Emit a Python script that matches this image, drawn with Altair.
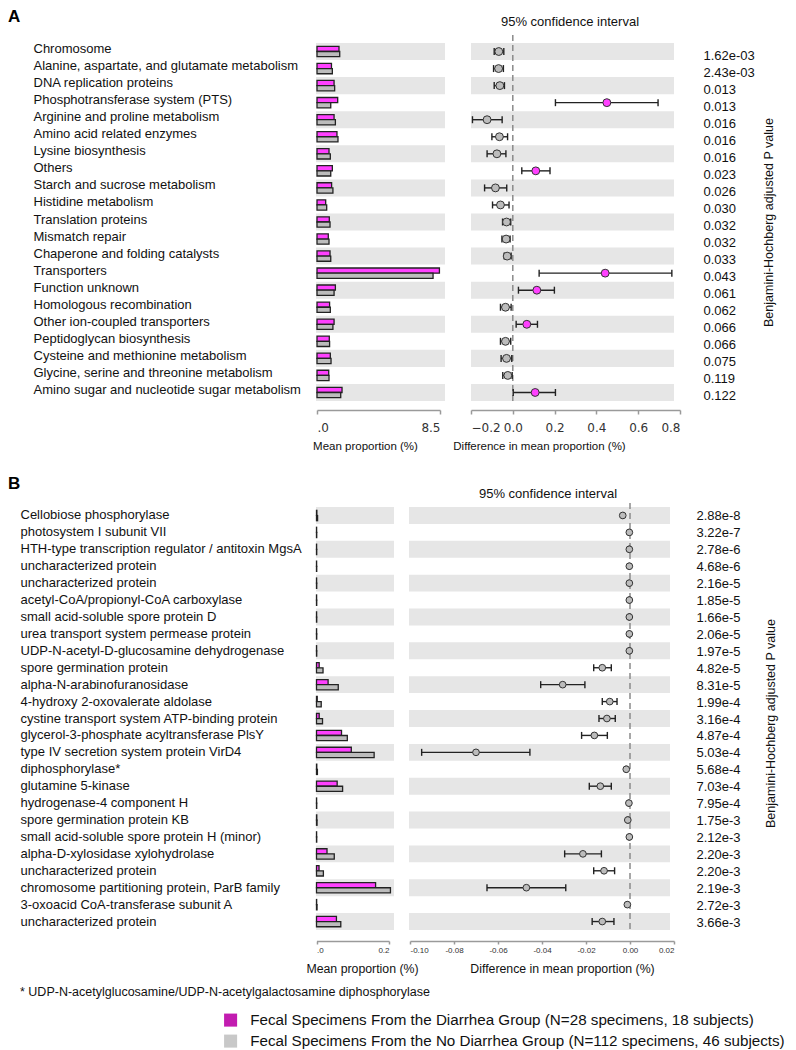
import json
import altair as alt
import pandas as pd

FONT = "Liberation Sans"
PINK = "#ff40ff"
GRAY = "#bcbcbc"
DARK = "#222222"
BAND = "#e6e6e6"
GROUPS = ["D", "N"]
LEGEND_LABELS = [
    "Fecal Specimens From the Diarrhea Group (N=28 specimens, 18 subjects)",
    "Fecal Specimens From the No Diarrhea Group (N=112 specimens, 46 subjects)",
]
LEGEND_COLORS = ["#c21cb0", "#c8c8c8"]
FOOTNOTE = "* UDP-N-acetylglucosamine/UDP-N-acetylgalactosamine diphosphorylase"
CI_TITLE = "95% confidence interval"
P_TITLE = "Benjamini-Hochberg adjusted P value"

# ---------------- Panel A ----------------
A_NAMES = [
    "Chromosome",
    "Alanine, aspartate, and glutamate metabolism",
    "DNA replication proteins",
    "Phosphotransferase system (PTS)",
    "Arginine and proline metabolism",
    "Amino acid related enzymes",
    "Lysine biosynthesis",
    "Others",
    "Starch and sucrose metabolism",
    "Histidine metabolism",
    "Translation proteins",
    "Mismatch repair",
    "Chaperone and folding catalysts",
    "Transporters",
    "Function unknown",
    "Homologous recombination",
    "Other ion-coupled transporters",
    "Peptidoglycan biosynthesis",
    "Cysteine and methionine metabolism",
    "Glycine, serine and threonine metabolism",
    "Amino sugar and nucleotide sugar metabolism",
]
A_PVALUES = ["1.62e-03", "2.43e-03", "0.013", "0.013", "0.016", "0.016", "0.016",
             "0.023", "0.026", "0.030", "0.032", "0.032", "0.033", "0.043",
             "0.061", "0.062", "0.066", "0.066", "0.075", "0.119", "0.122"]
A_MEAN_DIARRHEA = [1.52, 1.00, 1.18, 1.43, 1.18, 1.38, 0.83, 1.06, 1.01, 0.60, 0.85,
                   0.78, 0.90, 8.46, 1.27, 0.87, 1.18, 0.85, 0.92, 0.81, 1.73]
A_MEAN_NO_DIARRHEA = [1.57, 1.06, 1.22, 0.95, 1.27, 1.45, 0.92, 0.95, 1.10, 0.67, 0.90,
                      0.83, 0.95, 8.02, 1.18, 0.92, 1.10, 0.87, 0.97, 0.83, 1.64]
A_DIFF = [-0.067, -0.068, -0.062, 0.450, -0.123, -0.064, -0.076, 0.110, -0.083, -0.059,
          -0.030, -0.032, -0.027, 0.442, 0.115, -0.035, 0.067, -0.035, -0.030, -0.024, 0.107]
A_CI_LOW = [-0.089, -0.092, -0.089, 0.204, -0.193, -0.100, -0.123, 0.043, -0.135, -0.097,
            -0.049, -0.052, -0.041, 0.126, 0.027, -0.059, 0.016, -0.059, -0.056, -0.048, 0.002]
A_CI_HIGH = [-0.043, -0.045, -0.040, 0.695, -0.051, -0.025, -0.033, 0.178, -0.029, -0.018,
             -0.010, -0.013, -0.008, 0.761, 0.199, -0.008, 0.118, -0.010, -0.005, -0.003, 0.204]

# ---------------- Panel B ----------------
B_NAMES = [
    "Cellobiose phosphorylase",
    "photosystem I subunit VII",
    "HTH-type transcription regulator / antitoxin MgsA",
    "uncharacterized protein",
    "uncharacterized protein",
    "acetyl-CoA/propionyl-CoA carboxylase",
    "small acid-soluble spore protein D",
    "urea transport system permease protein",
    "UDP-N-acetyl-D-glucosamine dehydrogenase",
    "spore germination protein",
    "alpha-N-arabinofuranosidase",
    "4-hydroxy 2-oxovalerate aldolase",
    "cystine transport system ATP-binding protein",
    "glycerol-3-phosphate acyltransferase PlsY",
    "type IV secretion system protein VirD4",
    "diphosphorylase*",
    "glutamine 5-kinase",
    "hydrogenase-4 component H",
    "spore germination protein KB",
    "small acid-soluble spore protein H (minor)",
    "alpha-D-xylosidase xylohydrolase",
    "uncharacterized protein",
    "chromosome partitioning protein, ParB family",
    "3-oxoacid CoA-transferase subunit A",
    "uncharacterized protein",
]
B_PVALUES = ["2.88e-8", "3.22e-7", "2.78e-6", "4.68e-6", "2.16e-5", "1.85e-5", "1.66e-5",
             "2.06e-5", "1.97e-5", "4.82e-5", "8.31e-5", "1.99e-4", "3.16e-4", "4.87e-4",
             "5.03e-4", "5.68e-4", "7.03e-4", "7.95e-4", "1.75e-3", "2.12e-3", "2.20e-3",
             "2.20e-3", "2.19e-3", "2.72e-3", "3.66e-3"]
B_MEAN_DIARRHEA = [0.0010, 0.0003, 0.0003, 0.0003, 0.0003, 0.0003, 0.0003, 0.0003, 0.0003,
                   0.0074, 0.0320, 0.0020, 0.0074, 0.0690, 0.0960, 0.0008, 0.0570, 0.0003,
                   0.0008, 0.0003, 0.0290, 0.0070, 0.1630, 0.0004, 0.0550]
B_MEAN_NO_DIARRHEA = [0.0030, 0.0006, 0.0006, 0.0006, 0.0006, 0.0006, 0.0006, 0.0006, 0.0006,
                      0.0180, 0.0600, 0.0130, 0.0166, 0.0850, 0.1590, 0.0025, 0.0720, 0.0006,
                      0.0015, 0.0006, 0.0490, 0.0190, 0.2040, 0.0015, 0.0670]
B_DIFF = [-0.0033, -0.0003, -0.0003, -0.0003, -0.0003, -0.0003, -0.0003, -0.0003, -0.0003,
          -0.0126, -0.0306, -0.0092, -0.0105, -0.0162, -0.0700, -0.0017, -0.0135, -0.0005,
          -0.0010, -0.0003, -0.0214, -0.0118, -0.0471, -0.0012, -0.0126]
B_CI_LOW = [-0.0036, -0.0005, -0.0005, -0.0005, -0.0005, -0.0005, -0.0005, -0.0005, -0.0005,
            -0.0165, -0.0406, -0.0126, -0.0141, -0.0220, -0.0947, -0.0020, -0.0185, -0.0007,
            -0.0013, -0.0005, -0.0297, -0.0165, -0.0650, -0.0015, -0.0172]
B_CI_HIGH = [-0.0030, -0.0001, -0.0001, -0.0001, -0.0001, -0.0001, -0.0001, -0.0001, -0.0001,
             -0.0085, -0.0205, -0.0059, -0.0067, -0.0103, -0.0455, -0.0014, -0.0085, -0.0003,
             -0.0007, -0.0001, -0.0130, -0.0070, -0.0292, -0.0009, -0.0073]

GEO_A = dict(width=364, height=358, label_pad=283, label_size=13, l_off=-2.5,
             bar_dom=[0, 8.5], bar_rng=[1, 124], bar_ticks=[0, 8.5], bar_band=[0, 129],
             ci_dom=[-0.2, 0.8], ci_rng=[155, 364], ci_ticks=[-0.2, 0, 0.2, 0.4, 0.6, 0.8],
             ci_fmt="format(datum.value, '.1f')", ci_band=[155, 358], rule_top=-8,
             off_pad=0.65, pt=62, cap=7, axis_offset=9, tick_font="DejaVu Sans",
             tick_fs=12, tick_len=4, tick_pad=8, p_pad=23, p_off=4,
             p_title_x=88, p_title_y=179,
             bar_title_x=49, ci_title_x=223, title_y=36, axis_title_fs=11.5,
             ci_title_dx=254, ci_title_offset=5)
GEO_B = dict(width=358, height=423, label_pad=296, label_size=13, l_off=0,
             bar_dom=[0, 0.2], bar_rng=[0.5, 73], bar_ticks=[0, 0.2], bar_band=[0, 78],
             ci_dom=[-0.10, 0.02], ci_rng=[94, 358],
             ci_ticks=[-0.10, -0.08, -0.06, -0.04, -0.02, 0, 0.02],
             ci_fmt="replace(format(datum.value, '.2f'), '\u2212', '-')", ci_band=[93, 354],
             rule_top=-4, off_pad=0.6, pt=45, cap=7, axis_offset=11, tick_font=FONT,
             tick_fs=8, tick_len=3, tick_pad=2, p_pad=22, p_off=1,
             p_title_x=96, p_title_y=216,
             bar_title_x=46, ci_title_x=246, title_y=27, axis_title_fs=12.3,
             ci_title_dx=232, ci_title_offset=1)


def section(names, pvals, md, mn, diff, lo, hi, g, with_legend=False):
    n = len(names)
    rows = list(range(n))
    df_rows = pd.DataFrame({"row": rows, "diff": diff, "lo": lo, "hi": hi,
                            "enriched": [GROUPS[0] if v > 0 else GROUPS[1] for v in diff]})
    df_bars = pd.DataFrame({"row": rows + rows, "grp": [GROUPS[0]] * n + [GROUPS[1]] * n,
                            "mean": list(md) + list(mn)})
    df_zero = pd.DataFrame({"zero": [0.0]})

    yscale = alt.Scale(domain=rows, paddingInner=0, paddingOuter=0)
    fill_scale = alt.Scale(domain=GROUPS, range=[PINK, GRAY])
    bar_x = alt.Scale(domain=g["bar_dom"], range=g["bar_rng"], nice=False)
    ci_x = alt.Scale(domain=g["ci_dom"], range=g["ci_rng"], nice=False, zero=False)

    left_axis = alt.Axis(orient="left", title=None, labelExpr=f"{json.dumps(names)}[datum.value]",
                         labelAlign="left", labelBaseline="middle", labelPadding=g["label_pad"],
                         labelOffset=g["l_off"],
                         ticks=False, tickSize=0, domain=False, grid=False,
                         labelFontSize=g["label_size"], labelColor="#111", labelLimit=500,
                         labelOverlap=False, labelFont=FONT)
    right_axis = alt.Axis(orient="right", title=P_TITLE, titleAngle=270, titleFontWeight="normal",
                          titleFontSize=12.5, titleColor="#111", titleFont=FONT,
                          titleX=g["p_title_x"], titleY=g["p_title_y"], titleBaseline="middle",
                          titleAlign="center",
                          labelExpr=f"{json.dumps(pvals)}[datum.value]", labelAlign="left",
                          labelBaseline="middle", labelPadding=g["p_pad"], labelOffset=g["p_off"],
                          ticks=False, tickSize=0, domain=False, grid=False,
                          labelFontSize=13, labelColor="#111", labelOverlap=False, labelFont=FONT)
    common_x = dict(orient="bottom", grid=False, offset=g["axis_offset"], domainColor="#9a9a9a",
                    domainWidth=1.5, tickColor="#9a9a9a", tickWidth=1.5, tickSize=g["tick_len"],
                    labelPadding=g["tick_pad"], labelFont=g["tick_font"], labelFontSize=g["tick_fs"],
                    labelColor="#333", labelOverlap=False, titleFont=FONT,
                    titleFontSize=g["axis_title_fs"], titleFontWeight="normal", titleColor="#111",
                    titleBaseline="middle", titleAlign="center", titleY=g["title_y"])
    bar_axis = alt.Axis(values=g["bar_ticks"], title="Mean proportion (%)",
                        labelExpr="datum.value == 0 ? '.0' : format(datum.value, '.1f')",
                        titleX=g["bar_title_x"], **common_x)
    ci_axis = alt.Axis(values=g["ci_ticks"], title="Difference in mean proportion (%)",
                       labelExpr=g["ci_fmt"], titleX=g["ci_title_x"], **common_x)

    y_left = alt.Y("row:O", scale=yscale, axis=left_axis)
    y_right = alt.Y("row:O", scale=yscale, axis=right_axis)

    bands_bar = alt.Chart(df_rows).transform_filter("datum.row % 2 == 0").mark_rect(
        color=BAND).encode(x=alt.value(g["bar_band"][0]), x2=alt.value(g["bar_band"][1]), y=y_left)
    bars = alt.Chart(df_bars).mark_bar(stroke=DARK, strokeWidth=1.3).encode(
        x=alt.X("mean:Q", scale=bar_x, axis=bar_axis),
        y=y_left,
        yOffset=alt.YOffset("grp:N", scale=alt.Scale(domain=GROUPS, paddingInner=0,
                                                     paddingOuter=g["off_pad"])),
        fill=alt.Fill("grp:N", scale=fill_scale, legend=None),
    )
    bar_group = alt.layer(bands_bar, bars)

    bands_ci = alt.Chart(df_rows).transform_filter("datum.row % 2 == 0").mark_rect(
        color=BAND).encode(x=alt.value(g["ci_band"][0]), x2=alt.value(g["ci_band"][1]), y=y_right)
    zero = alt.Chart(df_zero).mark_rule(color="#8a8a8a", strokeWidth=1.5, strokeDash=[6, 4]).encode(
        x=alt.X("zero:Q", scale=ci_x, axis=ci_axis),
        y=alt.value(g["rule_top"]), y2=alt.value(g["height"]))
    err = alt.Chart(df_rows).mark_rule(color=DARK, strokeWidth=1.4).encode(
        x=alt.X("lo:Q", scale=ci_x, axis=ci_axis), x2="hi:Q", y=y_right)
    caps = alt.Chart(df_rows).transform_fold(["lo", "hi"], as_=["end", "edge"]).mark_tick(
        color=DARK, thickness=1.4, size=g["cap"], opacity=1).encode(
        x=alt.X("edge:Q", scale=ci_x, axis=ci_axis), y=y_right)
    pts = alt.Chart(df_rows).mark_point(filled=True, shape="circle", size=g["pt"], stroke="#333",
                                        strokeWidth=1, opacity=1).encode(
        x=alt.X("diff:Q", scale=ci_x, axis=ci_axis), y=y_right,
        fill=alt.Fill("enriched:N", scale=fill_scale, legend=None))
    ci_group = alt.layer(bands_ci, zero, err, caps, pts)

    layers = [bar_group, ci_group]
    if with_legend:
        leg = alt.Chart(df_bars).mark_square(opacity=0).encode(
            color=alt.Color("grp:N", scale=alt.Scale(domain=GROUPS, range=LEGEND_COLORS),
                            legend=alt.Legend(
                                title=FOOTNOTE, titleFont=FONT, titleFontSize=12.5,
                                titleFontWeight="normal", titleColor="#111", titleLimit=800,
                                titleAnchor="start", titlePadding=14,
                                orient="none", legendX=-296, legendY=479, padding=0,
                                direction="vertical", symbolType="square", symbolSize=170,
                                symbolOpacity=1, symbolStrokeWidth=0, symbolOffset=203,
                                labelOffset=12, labelFont=FONT,
                                labelFontSize=15.2, labelColor="#111", labelLimit=800,
                                rowPadding=5,
                                labelExpr=f"datum.value == 'D' ? {json.dumps(LEGEND_LABELS[0])} : {json.dumps(LEGEND_LABELS[1])}")))
        layers.append(leg)

    return alt.layer(*layers).resolve_scale(x="independent").resolve_axis(
        x="independent", y="independent").properties(
        width=g["width"], height=g["height"],
        title=alt.TitleParams(CI_TITLE, anchor="start", frame="group", align="center",
                              dx=g["ci_title_dx"], offset=g["ci_title_offset"], fontSize=13,
                              fontWeight="normal", font=FONT, color="#111"))


a_inner = section(A_NAMES, A_PVALUES, A_MEAN_DIARRHEA, A_MEAN_NO_DIARRHEA, A_DIFF, A_CI_LOW,
                  A_CI_HIGH, GEO_A)
b_inner = section(B_NAMES, B_PVALUES, B_MEAN_DIARRHEA, B_MEAN_NO_DIARRHEA, B_DIFF, B_CI_LOW,
                  B_CI_HIGH, GEO_B, with_legend=True)

a_wrap = alt.vconcat(a_inner, title=alt.TitleParams(
    "A", anchor="start", fontSize=17, fontWeight="bold", font=FONT, color="black",
    dx=-25, offset=-10))
b_wrap = alt.vconcat(b_inner, title=alt.TitleParams(
    "B", anchor="start", fontSize=17, fontWeight="bold", font=FONT, color="black",
    dx=-12, offset=-5)).resolve_scale(color="independent")

chart = alt.vconcat(a_wrap, b_wrap, spacing=23).resolve_scale(color="independent").properties(
    padding=0).configure(font=FONT).configure_view(stroke=None)

chart.save("out.html", embed_options={"renderer": "svg", "actions": False})
